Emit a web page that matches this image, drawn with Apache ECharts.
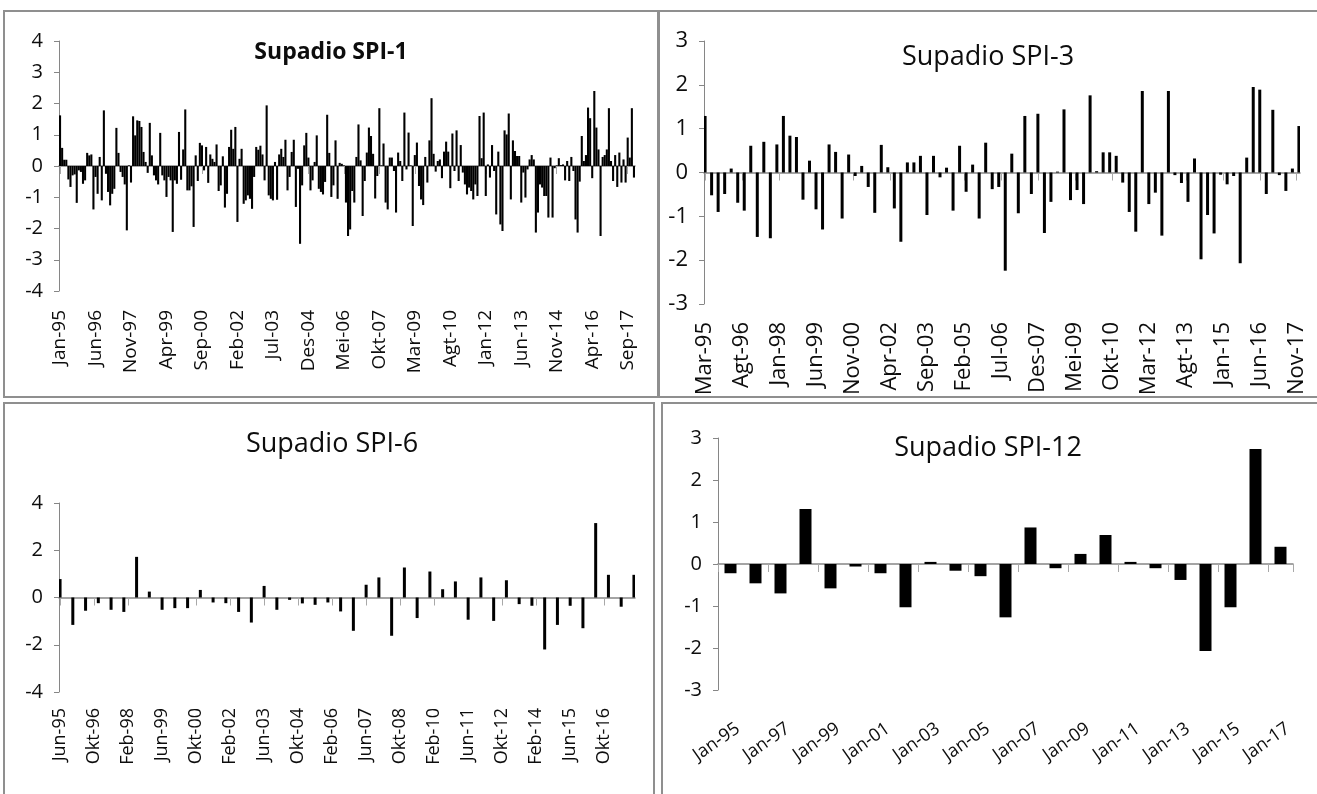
<!DOCTYPE html>
<html>
<head>
<meta charset="utf-8">
<script src="https://cdn.jsdelivr.net/npm/echarts@6/dist/echarts.min.js"></script>
<style>
  html, body { margin: 0; padding: 0; background: #ffffff; }
  #chart { width: 1317px; height: 794px; }
</style>
</head>
<body>
<div id="chart"></div>
<script>
// Indonesian month abbreviations used on the category axes
const monthNames = ['Jan', 'Feb', 'Mar', 'Apr', 'Mei', 'Jun', 'Jul', 'Agt', 'Sep', 'Okt', 'Nov', 'Des'];

// SPI-1: monthly values, Jan-1995 .. Des-2017
const spi1 = [
  1.62, 0.58, 0.20, 0.20, -0.43, -0.67, -0.30, -0.27, -1.18, -0.14,
  -0.19, -0.57, -0.46, 0.42, 0.34, 0.37, -1.39, -0.35, -0.89, 0.29,
  -1.10, 1.78, -0.25, -0.83, -1.26, -0.89, -0.73, 1.22, 0.42, -0.19,
  -0.35, -0.59, -2.06, 0.02, -0.53, 1.59, 0.98, 1.46, 1.44, 1.25,
  0.45, 0.13, -0.22, 1.38, 0.34, -0.30, -0.46, -0.59, 1.06, -0.30,
  -0.46, -0.99, -0.35, -0.46, -2.11, -0.46, -0.57, 1.09, -0.44, 0.53,
  1.81, -0.78, -0.78, -0.65, -1.95, 0.34, -0.48, 0.74, 0.66, -0.14,
  0.61, -0.54, 0.37, 0.23, 0.13, 0.69, -0.80, -0.62, 0.31, -1.33,
  -0.89, 0.61, 1.16, 0.55, 1.25, -1.79, 0.23, 0.55, -1.21, -1.10,
  -0.94, -1.05, -1.37, -0.35, 0.61, 0.52, 0.65, 0.37, -0.46, 1.94,
  -0.94, -1.05, -1.10, 0.13, -1.08, 0.37, 0.55, 0.29, 0.84, -0.78,
  -0.35, 0.45, 0.84, -1.31, -0.09, -2.49, -0.62, 0.66, 1.06, 0.27,
  -0.78, -0.46, 0.13, 0.98, -0.73, -0.83, -0.91, -0.51, 1.64, 0.42,
  -0.99, -0.62, 0.82, -1.05, 0.10, 0.07, 0.02, -1.17, -2.24, -2.03,
  -0.80, -1.17, 0.29, 1.33, 0.18, -1.60, -0.48, 0.43, 1.23, 0.96,
  0.39, -1.04, -0.32, 1.85, 0.02, 0.72, -1.17, -1.39, 0.27, 0.27,
  -0.16, -1.49, 0.43, 0.16, -0.48, 1.71, -0.11, 1.07, 0.02, -1.92,
  0.35, 0.75, -0.64, -1.07, -1.25, 0.29, -0.53, 0.82, 2.17, 0.39,
  -0.18, 0.16, 0.21, -0.39, 0.46, 0.78, 0.46, -0.71, 1.04, -0.16,
  1.14, -0.48, 0.67, -0.21, -0.59, -0.91, -0.69, -0.80, -1.07, -0.59,
  -0.96, 1.60, 0.25, 1.71, -0.96, 0.05, -0.37, 0.67, -0.16, -1.55,
  0.46, -1.87, -2.08, 1.14, 1.01, 1.68, -1.07, 0.82, 0.48, 0.32,
  0.32, -1.17, -0.21, -1.01, -0.11, 0.21, 0.35, 0.21, -2.13, -1.49,
  -0.59, -0.69, -0.96, -0.96, -1.65, 0.27, -1.65, -0.07, 0.02, 0.25,
  0.03, 0.05, -0.46, 0.16, -0.48, 0.29, -0.16, -1.71, -2.13, -0.50,
  0.96, 0.16, 0.35, 1.87, 1.53, -0.39, 2.40, 1.23, 0.53, -2.24,
  0.29, 0.35, 0.53, 1.85, 0.16, -0.48, 0.35, -0.67, 0.43, -0.53,
  0.21, -0.53, 0.91, 0.27, 1.85, -0.37
];

// SPI-3: one value per quarter (Mar, Jun, Sep, Des), Mar-1995 .. Des-2017
const spi3 = [
  1.29, -0.52, -0.90, -0.49, 0.09, -0.69, -0.87, 0.61, -1.47, 0.70,
  -1.50, 0.64, 1.29, 0.84, 0.81, -0.62, 0.27, -0.84, -1.30, 0.64,
  0.47, -1.05, 0.41, -0.08, 0.15, -0.33, -0.92, 0.63, 0.12, -0.82,
  -1.58, 0.23, 0.23, 0.38, -0.97, 0.38, -0.11, 0.11, -0.87, 0.61,
  -0.44, 0.18, -1.05, 0.68, -0.38, -0.33, -2.24, 0.43, -0.93, 1.29,
  -0.49, 1.34, -1.38, -0.67, 0.02, 1.44, -0.63, -0.40, -0.72, 1.76,
  0.03, 0.46, 0.46, 0.38, -0.23, -0.90, -1.35, 1.86, -0.72, -0.46,
  -1.44, 1.86, -0.06, -0.24, -0.67, 0.32, -1.98, -0.97, -1.39, -0.05,
  -0.27, -0.08, -2.07, 0.34, 1.95, 1.89, -0.49, 1.43, -0.06, -0.42,
  0.09, 1.06
];

// SPI-6: one value per half-year (Jun, Des), Jun-1995 .. Des-2017
const spi6 = [
  0.78, -1.16, -0.56, -0.24, -0.52, -0.61, 1.72, 0.25, -0.52, -0.45,
  -0.45, 0.32, -0.21, -0.24, -0.61, -1.06, 0.49, -0.52, -0.10, -0.25,
  -0.31, -0.21, -0.59, -1.41, 0.54, 0.85, -1.62, 1.27, -0.87, 1.10,
  0.35, 0.68, -0.94, 0.85, -0.99, 0.73, -0.28, -0.35, -2.20, -1.16,
  -0.35, -1.30, 3.15, 0.96, -0.39, 0.96
];

// SPI-12: yearly values (Jan), 1995 .. 2017
const spi12Years = [1995, 1996, 1997, 1998, 1999, 2000, 2001, 2002, 2003, 2004, 2005, 2006,
                    2007, 2008, 2009, 2010, 2011, 2012, 2013, 2014, 2015, 2016, 2017];
const spi12 = [
  -0.22, -0.46, -0.70, 1.31, -0.58, -0.06, -0.22, -1.03, 0.05, -0.16, -0.29, -1.27,
  0.87, -0.10, 0.24, 0.69, 0.05, -0.10, -0.38, -2.07, -1.03, 2.74, 0.41
];

const panelTitles = ['Supadio SPI-1', 'Supadio SPI-3', 'Supadio SPI-6', 'Supadio SPI-12'];

// ---- category lists -------------------------------------------------------
function yy(year) { return String(year % 100).padStart(2, '0'); }
function monthLabels(y0, m0, y1, m1) {
  const out = [];
  for (let y = y0, m = m0; y < y1 || (y === y1 && m <= m1); ) {
    out.push(monthNames[m] + '-' + yy(y));
    m++; if (m === 12) { m = 0; y++; }
  }
  return out;
}
const cat1 = monthLabels(1995, 0, 2017, 11);
const cat3 = monthLabels(1995, 2, 2017, 11);
const cat6 = monthLabels(1995, 5, 2017, 11);
const cat12 = spi12Years.map(y => 'Jan-' + yy(y));

// sparse monthly series: values sit on every 3rd / 6th month
const data1 = spi1;
const data3 = cat3.map((_, k) => (k % 3 === 0 ? spi3[k / 3] : null));
const data6 = cat6.map((_, k) => (k % 6 === 0 ? spi6[k / 6] : null));
const data12 = spi12;

// ---- styling ---------------------------------------------------------------
const FONT = '"Open Sans", "DejaVu Sans", sans-serif';
const AXIS_GREY = '#868686';
const TEXT = '#0d0d0d';
const FRAME = '#8f8f8f';

function buildPanel(i, p) {
  const grid = { left: p.left, top: p.top, width: p.width, height: p.height, containLabel: false };
  const labelAxis = {
    type: 'category', gridIndex: i, data: p.cats, position: 'bottom',
    boundaryGap: true,
    axisLine: { show: false, onZero: false },
    axisTick: { show: false },
    axisLabel: Object.assign({
      interval: p.interval, rotate: p.rotate, margin: p.labelMargin,
      fontFamily: FONT, fontSize: p.xFont, color: TEXT
    }, p.labelExtra || {}),
    splitLine: { show: false }
  };
  const zeroAxis = {
    type: 'category', gridIndex: i, data: p.cats, position: 'bottom',
    boundaryGap: true,
    axisLine: { show: true, onZero: true, lineStyle: { color: AXIS_GREY, width: 1.5 } },
    axisTick: { show: true, interval: p.tickInterval, alignWithLabel: p.alignTicks,
                length: 8, lineStyle: { color: '#a8a8a8', width: 1 } },
    axisLabel: { show: false },
    splitLine: { show: false }
  };
  const yAxis = {
    type: 'value', gridIndex: i, min: p.min, max: p.max, interval: p.step,
    axisLine: { show: true, onZero: false, lineStyle: { color: AXIS_GREY, width: 1 } },
    axisTick: { show: true, length: 5, lineStyle: { color: AXIS_GREY } },
    axisLabel: { fontFamily: FONT, fontSize: p.yFont, color: TEXT, margin: 16 },
    splitLine: { show: false }
  };
  const series = {
    type: 'bar', name: panelTitles[i], xAxisIndex: i * 2, yAxisIndex: i,
    data: p.data, itemStyle: { color: '#000000' }, silent: true,
    barGap: '0%'
  };
  if (p.barWidth) series.barWidth = p.barWidth; else series.barCategoryGap = '0%';
  return { grid, xAxes: [labelAxis, zeroAxis], yAxis, series };
}

const panels = [
  buildPanel(0, { left: 59, top: 41, width: 576, height: 250, cats: cat1, data: data1,
    min: -4, max: 4, step: 1, interval: 16, tickInterval: 16, alignTicks: true,
    rotate: 90, labelMargin: 19, xFont: 19, yFont: 20 }),
  buildPanel(1, { left: 704, top: 41, width: 596, height: 263, cats: cat3, data: data3,
    min: -3, max: 3, step: 1, interval: 16, tickInterval: 16, alignTicks: true,
    rotate: 90, labelMargin: 18, xFont: 22, yFont: 22, barWidth: 3 }),
  buildPanel(2, { left: 59, top: 503, width: 576, height: 189, cats: cat6, data: data6,
    min: -4, max: 4, step: 2, interval: 15, tickInterval: 15, alignTicks: true,
    rotate: 90, labelMargin: 16, xFont: 18, yFont: 20, barWidth: 3 }),
  buildPanel(3, { left: 718, top: 438, width: 575, height: 252, cats: cat12, data: data12,
    min: -3, max: 3, step: 1, interval: 1, tickInterval: 1, alignTicks: false,
    rotate: 35, labelMargin: 42, xFont: 18, yFont: 20, barWidth: 12,
    labelExtra: { padding: [0, -9, 0, 0] } })
];

// panel frames and titles
const frames = [
  { x: 4, y: 11, w: 654, h: 386 },
  { x: 659, y: 11, w: 662, h: 386 },
  { x: 4, y: 403, w: 650, h: 395 },
  { x: 662, y: 403, w: 660, h: 395 }
];
const titlePos = [
  { x: 331, y: 52, size: 23, weight: 'bold' },
  { x: 988, y: 57, size: 27, weight: 'normal' },
  { x: 332, y: 444, size: 27, weight: 'normal' },
  { x: 988, y: 448, size: 27, weight: 'normal' }
];

const graphics = [];
frames.forEach(f => graphics.push({
  type: 'rect', silent: true, z: 0,
  shape: { x: f.x, y: f.y, width: f.w, height: f.h },
  style: { fill: 'none', stroke: FRAME, lineWidth: 2 }
}));
titlePos.forEach((t, i) => graphics.push({
  type: 'text', silent: true, z: 10, x: t.x, y: t.y,
  style: {
    text: panelTitles[i], fill: TEXT,
    fontFamily: FONT, fontSize: t.size, fontWeight: t.weight,
    align: 'center', verticalAlign: 'middle'
  }
}));

const chart = echarts.init(document.getElementById('chart'), null, { renderer: 'canvas' });
chart.setOption({
  animation: false,
  backgroundColor: '#ffffff',
  grid: panels.map(p => p.grid),
  xAxis: panels.flatMap(p => p.xAxes),
  yAxis: panels.map(p => p.yAxis),
  series: panels.map(p => p.series),
  graphic: graphics
});
</script>
</body>
</html>
